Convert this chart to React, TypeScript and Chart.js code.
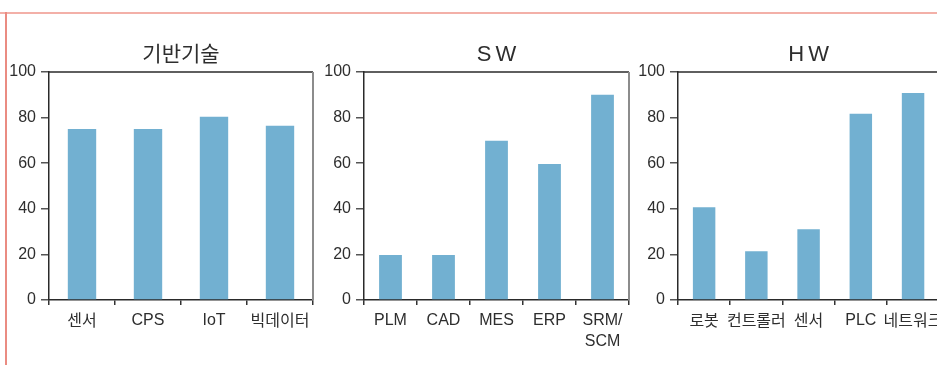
import React, { useEffect, useRef } from "react";
import { Chart, registerables } from "chart.js";

Chart.register(...registerables);

// ---- data ----
const panelTitles = ["기반기술", "SW", "HW"];
const techCategories = ["센서", "CPS", "IoT", "빅데이터"];
const techValues = [75, 75, 80.4, 76.4];
const swCategories: (string | string[])[] = ["PLM", "CAD", "MES", "ERP", ["SRM/", "SCM"]];
const swValues = [19.7, 19.7, 69.8, 59.7, 90];
const hwCategories = ["로봇", "컨트롤러", "센서", "PLC", "네트워크"];
const hwValues = [40.7, 21.4, 31, 81.7, 90.8];
const yMin = 0;
const yMax = 100;
const yStep = 20;

const LATIN = "'Liberation Sans', Arial, 'Noto Sans CJK KR', sans-serif";
const KOREAN = "'Noto Sans CJK KR', 'Liberation Sans', sans-serif";
const BAR = "#72b0d1";

const framePlugin = {
  id: "frame",
  afterDraw(chart: any, _args: any, opts: any) {
    const { ctx, chartArea: a } = chart;
    ctx.save();
    ctx.strokeStyle = "#2a2a2a";
    ctx.lineWidth = 1.5;
    ctx.beginPath();
    ctx.moveTo(a.left, a.top);
    ctx.lineTo(a.right, a.top);
    ctx.stroke();
    ctx.strokeStyle = "#8c8c8c";
    ctx.lineWidth = 2;
    ctx.beginPath();
    ctx.moveTo(a.right, a.top);
    ctx.lineTo(a.right, a.bottom);
    ctx.stroke();
    // title
    const hangul = /[\uac00-\ud7a3]/.test(opts.text);
    ctx.fillStyle = "#2e2e2e";
    ctx.font = hangul ? `400 21px ${KOREAN}` : `400 22px 'Liberation Sans', Arial, sans-serif`;
    ctx.textAlign = "center";
    ctx.textBaseline = "alphabetic";
    const sp = hangul ? 0 : 4;
    (ctx as any).letterSpacing = `${sp}px`;
    ctx.fillText(opts.text, (a.left + a.right) / 2 + sp / 2, 61);
    ctx.restore();
  },
};

type Panel = {
  title: string;
  labels: (string | string[])[];
  values: number[];
  left: number;
  axisWidth: number;
  width: number;
};

function BarPanel({ p }: { p: Panel }) {
  const ref = useRef<HTMLCanvasElement>(null);
  useEffect(() => {
    if (!ref.current) return;
    const chart = new Chart(ref.current, {
      type: "bar",
      data: {
        labels: p.labels as any,
        datasets: [
          {
            data: p.values,
            backgroundColor: BAR,
            borderWidth: 0,
            barPercentage: 0.43,
            categoryPercentage: 1,
          },
        ],
      },
      plugins: [framePlugin as any],
      options: {
        animation: false,
        responsive: false,
        maintainAspectRatio: false,
        devicePixelRatio: 1,
        layout: { padding: { top: 72, right: 5, bottom: 5, left: 0 } },
        plugins: {
          legend: { display: false },
          tooltip: { enabled: false },
          title: { display: false },
          frame: { text: p.title },
        } as any,
        scales: {
          x: {
            offset: true,
            grid: {
              display: true,
              drawOnChartArea: false,
              drawTicks: true,
              tickLength: 5,
              offset: true,
              color: "#333",
              lineWidth: 1.5,
            },
            border: { display: true, color: "#2a2a2a", width: 1.5 },
            ticks: {
              color: "#2e2e2e",
              autoSkip: false,
              maxRotation: 0,
              padding: 5,
              font: (c: any) => {
                const lbl = String(c.tick ? c.tick.label : "");
                return /[\uac00-\ud7a3]/.test(lbl)
                  ? { family: KOREAN, size: 16, lineHeight: 1.3 }
                  : { family: LATIN, size: 16, lineHeight: 1.3 };
              },
            },
            afterFit: (s: any) => {
              s.height = 60;
            },
          },
          y: {
            min: yMin,
            max: yMax,
            grid: {
              drawOnChartArea: false,
              drawTicks: true,
              tickLength: 8,
              color: "#555",
              lineWidth: 1.5,
            },
            border: { display: true, color: "#2a2a2a", width: 1.5 },
            ticks: {
              stepSize: yStep,
              color: "#2e2e2e",
              padding: 5,
              font: { family: LATIN, size: 16 },
            },
            afterFit: (s: any) => {
              s.width = p.axisWidth;
            },
          },
        },
      } as any,
    });
    return () => chart.destroy();
  }, [p]);
  return (
    <canvas
      ref={ref}
      width={p.width}
      height={365}
      style={{ position: "absolute", left: p.left, top: 0, width: p.width, height: 365 }}
    />
  );
}

const panels: Panel[] = [
  { title: panelTitles[0], labels: techCategories, values: techValues, left: 0, axisWidth: 49, width: 318 },
  { title: panelTitles[1], labels: swCategories, values: swValues, left: 315, axisWidth: 49, width: 319 },
  { title: panelTitles[2], labels: hwCategories, values: hwValues, left: 630, axisWidth: 48, width: 318 },
];

export default function App() {
  return (
    <div
      style={{
        position: "fixed",
        left: 0,
        top: 0,
        width: 937,
        height: 365,
        overflow: "hidden",
        background: "#fff",
      }}
    >
      <div style={{ position: "absolute", left: 0, top: 12, width: 937, height: 2, background: "#f3b0a8" }} />
      <div style={{ position: "absolute", left: 5, top: 12, width: 1.5, height: 353, background: "#ea8c82" }} />
      {panels.map((p, i) => (
        <BarPanel key={i} p={p} />
      ))}
    </div>
  );
}
